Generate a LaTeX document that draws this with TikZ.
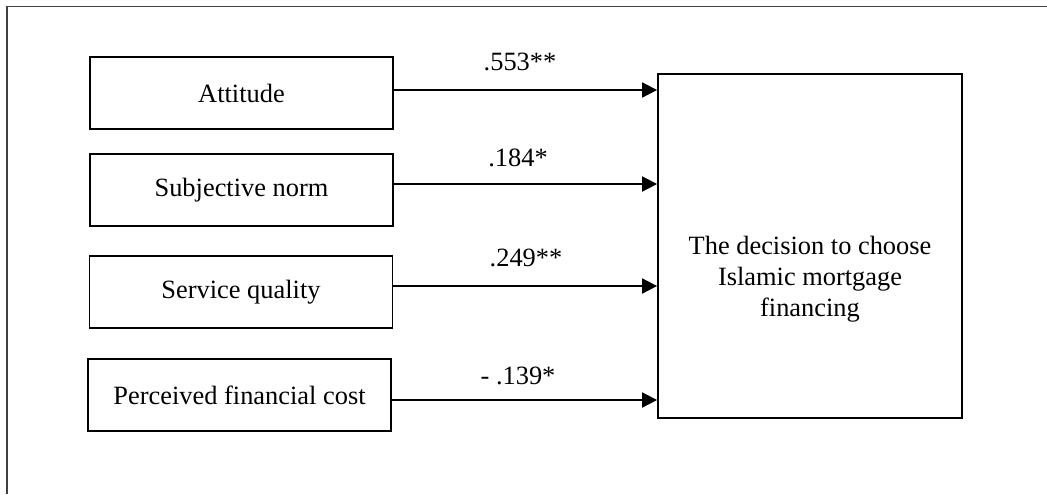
\documentclass[tikz,border=0pt]{standalone}
\usepackage{fontspec}
\setmainfont{Liberation Serif}
\usepackage{tikz}
\usetikzlibrary{arrows.meta, positioning}
\newcommand{\factor}[2]{ node[rectangle, draw, minimum height = 36pt, minimum width = 151.5pt, name={#1}, factorbox] {#2}}
\tikzset{factorbox/.style={line width = .9pt, font = \fontsize{13.2}{15.5}\selectfont}}
\tikzset{coef/.style={font = \fontsize{13.2}{15.5}\selectfont, inner sep = 0pt}}
\tikzset{link/.style={line width = .9pt, -{Triangle[length = 7.5pt, width = 7.5pt]}}}

\begin{document}
\begin{tikzpicture}[x = .5pt, y = -.5pt]
  \useasboundingbox (0, 0) rectangle (1047, 494);
  % frame
  \draw [line width = .7pt, black!75] (7, 494) |- (1047, 6.5);

  \draw [] (241.5, 93) \factor{att}{Attitude};
  \draw [] (241.5, 190) \factor{sub}{Subjective norm};
  \draw [] (241, 292) \factor{ser}{Service quality};
  \draw [] (239.5, 395) \factor{pfc}{Perceived financial cost};

  \node[rectangle,
  minimum width = 152pt,
  minimum height = 172pt,
  draw,
  line width = .9pt
  ] (dec) at (810, 246) {};
  \node [coef, align = center] (dectxt) at (810, 279) {The decision to choose\\Islamic mortgage\\financing};

  \node [coef] (c1) at (520, 62) {.553**};
  \node [coef] (c2) at (518, 158) {.184*};
  \node [coef] (c3) at (526, 258) {.249**};
  \node [coef] (c4) at (518, 376) {- .139*};

  \draw[link] ([yshift = 1.5pt]att.east) -- ([yshift = 1.5pt]att.east -| dec.west);
  \draw[link] ([yshift = 3pt]sub.east) -- ([yshift = 3pt]sub.east -| dec.west);
  \draw[link] ([yshift = 3pt]ser.east) -- ([yshift = 3pt]ser.east -| dec.west);
  \draw[link] ([yshift = -2.5pt]pfc.east) -- ([yshift = -2.5pt]pfc.east -| dec.west);

\end{tikzpicture}
\end{document}
